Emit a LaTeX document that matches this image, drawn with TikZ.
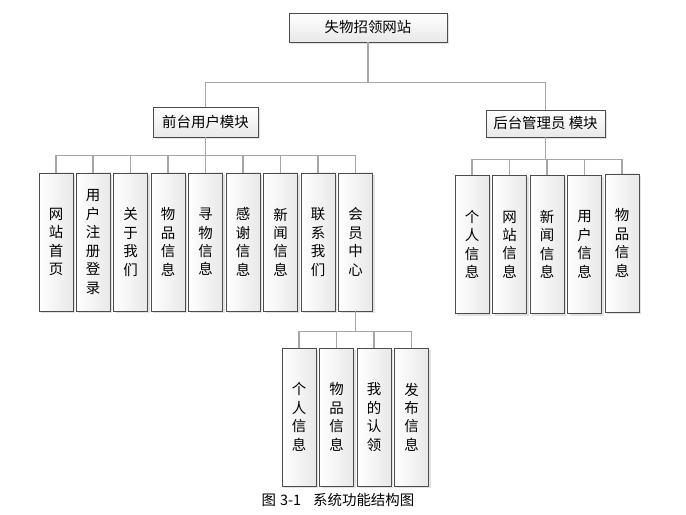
\documentclass[tikz,border=0pt]{standalone}
\usepackage{fontspec}
\newfontfamily\cjk{Noto Sans CJK SC}
\usetikzlibrary{shadows}

\begin{document}
\begin{tikzpicture}[x=1bp, y=-1bp,
    box/.style={draw=gray!60!black, line width=0.7bp, inner sep=0pt,
        font=\cjk\fontsize{14.5}{18.5}\selectfont, align=center,
        top color=white, bottom color=gray!18,
        drop shadow={shadow xshift=2bp, shadow yshift=-2bp, fill=gray!45, opacity=0.5}},
    vbox/.style={box, minimum width=34bp, minimum height=138bp,
        left color=white, right color=gray!18},
    link/.style={draw=gray!70, line width=1.1bp}]
    \useasboundingbox (0,0) rectangle (686,515);

    % Nodes
    \node[box, minimum width=158bp, minimum height=29bp] (root) at (368, 27.5) {失物招领网站};
    \node[box, minimum width=105bp, minimum height=30bp] (front) at (205.5, 122) {前台用户模块};
    \node[box, minimum width=119bp, minimum height=27bp] (back) at (545.5, 123.5) {后台管理员 模块};

    \node[vbox] (f1) at (56, 242) {网\\站\\首\\页};
    \node[vbox] (f2) at (93, 242) {用\\户\\注\\册\\登\\录};
    \node[vbox] (f3) at (130.5, 242) {关\\于\\我\\们};
    \node[vbox] (f4) at (168, 242) {物\\品\\信\\息};
    \node[vbox] (f5) at (205.5, 242) {寻\\物\\信\\息};
    \node[vbox] (f6) at (243, 242) {感\\谢\\信\\息};
    \node[vbox] (f7) at (280.5, 242) {新\\闻\\信\\息};
    \node[vbox] (f8) at (318, 242) {联\\系\\我\\们};
    \node[vbox] (vip) at (355.5, 242) {会\\员\\中\\心};

    \node[vbox] (b1) at (472, 244.5) {个\\人\\信\\息};
    \node[vbox] (b2) at (509.5, 244.5) {网\\站\\信\\息};
    \node[vbox] (b3) at (547, 244.5) {新\\闻\\信\\息};
    \node[vbox] (b4) at (584.5, 244.5) {用\\户\\信\\息};
    \node[vbox] (b5) at (622, 243) {物\\品\\信\\息};

    \node[vbox] (v1) at (299, 417) {个\\人\\信\\息};
    \node[vbox] (v2) at (336.5, 417) {物\\品\\信\\息};
    \node[vbox] (v3) at (374, 417) {我\\的\\认\\领};
    \node[vbox] (v4) at (411.5, 417) {发\\布\\信\\息};

    \node[font=\cjk\fontsize{14.5}{16}\selectfont] (cap) at (338, 500) {图\hspace{4bp}3-1\hspace{12bp}系统功能结构图};

    % Edges
    \draw[link] (root.south) -- ++(0,40) -| (front.north);
    \draw[link] (root.south) -- ++(0,40) -| (back.north);

    \foreach \c in {f1,f2,f3,f4,f5,f6,f7,f8,vip}
        \draw[link] (front.south) -- ++(0,18) -| (\c.north);
    \foreach \c in {b1,b2,b3,b4,b5}
        \draw[link] (back.south) -- ++(0,22) -| (\c.north);
    \foreach \c in {v1,v2,v3,v4}
        \draw[link] (vip.south) -- ++(0,20) -| (\c.north);
\end{tikzpicture}
\end{document}
